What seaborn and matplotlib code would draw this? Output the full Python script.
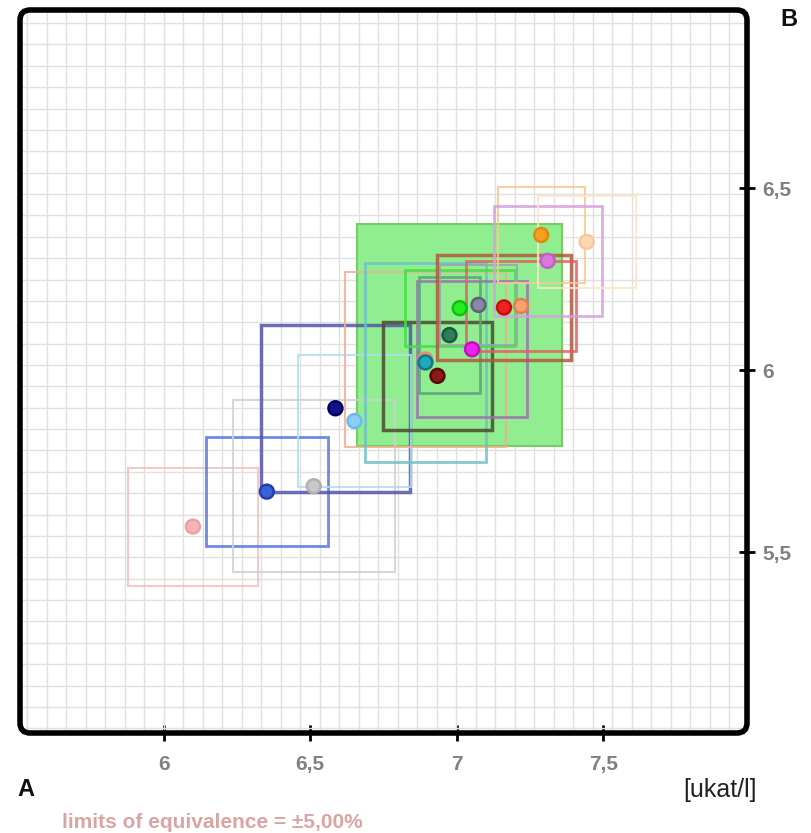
import numpy as np
import pandas as pd
import matplotlib
matplotlib.use("Agg")
import matplotlib.pyplot as plt
from matplotlib.patches import Rectangle, FancyBboxPatch
import seaborn as sns

# ---------------- data ----------------
labs = ["pink", "blue", "lightgray", "navy", "sky", "salmon", "teal", "maroon",
        "magenta", "darkgreen", "green", "slategray", "red", "lightorange",
        "orange", "orchid", "peach"]
val_a = [6.100, 6.352, 6.512, 6.586, 6.651, 6.893, 6.893, 6.934,
         7.052, 6.975, 7.010, 7.074, 7.161, 7.219, 7.288, 7.310, 7.443]
val_b = [5.570, 5.666, 5.681, 5.895, 5.860, 6.029, 6.021, 5.984,
         6.057, 6.096, 6.170, 6.179, 6.172, 6.176, 6.371, 6.300, 6.352]
half_a = [0.222, 0.209, 0.276, 0.254, 0.194, 0.276, 0.205, 0.186,
          0.189, 0.104, 0.188, 0.130, 0.230, 0.189, 0.148, 0.184, 0.167]
half_b = [0.162, 0.149, 0.237, 0.229, 0.181, 0.240, 0.273, 0.149,
          0.187, 0.159, 0.104, 0.110, 0.144, 0.124, 0.133, 0.151, 0.126]
point_colors = ["#f5b5b5", "#3a62d8", "#c8c8c8", "#14148a", "#87cefa", "#f8b090",
                "#22a8b8", "#8b1a1a", "#ee22ee", "#2e7d5b", "#22ee22", "#8888a0",
                "#ee2020", "#f8a070", "#f5a020", "#dd77dd", "#fdd8b0"]
edge_colors = ["#eea0a0", "#2040b0", "#b0b0b0", "#000060", "#70b8e8", "#e09070",
               "#107888", "#5a0a0a", "#c010c0", "#1a5a3a", "#10c010", "#60607a",
               "#c01010", "#e08050", "#e08a10", "#c060c0", "#f5c8a0"]
box_colors = ["#f5c0c0", "#5577dd", "#d0d0d0", "#5555aa", "#b0dcf5", "#f0b090",
              "#70c0c8", "#4a4a30", "#a070b0", "#60a080", "#44dd44", "#a0a0b8",
              "#b05a3a", "#e06060", "#f8c890", "#d8a0e0", "#fde4c8"]
box_widths = [1.5, 2.0, 1.5, 2.5, 1.5, 1.5, 2.0, 2.5,
              2.0, 2.0, 2.0, 1.5, 2.5, 2.0, 1.5, 2.0, 1.5]

consensus_a = 7.010
consensus_b = 6.097
equivalence = 0.05  # limits of equivalence = ±5,00%

x_ticks = [6.0, 6.5, 7.0, 7.5]
x_ticklabels = ["6", "6,5", "7", "7,5"]
y_ticks = [5.5, 6.0, 6.5]
y_ticklabels = ["5,5", "6", "6,5"]

x_lim = (5.51, 7.99)
y_lim = (5.003, 6.989)

df = pd.DataFrame({"lab": labs, "A": val_a, "B": val_b,
                   "ha": half_a, "hb": half_b})

# ---------------- figure ----------------
sns.set_theme(style="white")
plt.rcParams["font.family"] = ["Liberation Sans", "DejaVu Sans"]

fig = plt.figure(figsize=(8.12, 8.33), dpi=100)
ax = fig.add_axes([20 / 812, 100 / 833, 727 / 812, 723 / 833])
ax.set_xlim(*x_lim)
ax.set_ylim(*y_lim)

# grid
gx = np.arange(x_lim[0] + 0.025, x_lim[1], 0.0665)
gy = np.arange(y_lim[1] - 0.036, y_lim[0], -0.0587)
ax.vlines(gx, y_lim[0], y_lim[1], color="#e0e0e0", lw=1.0, zorder=1)
ax.hlines(gy, x_lim[0], x_lim[1], color="#e0e0e0", lw=1.0, zorder=1)

# equivalence area
ea = consensus_a * equivalence
eb = consensus_b * equivalence
ax.add_patch(Rectangle((consensus_a - ea, consensus_b - eb), 2 * ea, 2 * eb,
                       facecolor="#90ee90", edgecolor="#78cc60", lw=1.5, zorder=2))

# boxes
for i, r in df.iterrows():
    ax.add_patch(Rectangle((r.A - r.ha, r.B - r.hb), 2 * r.ha, 2 * r.hb,
                           fill=False, edgecolor=box_colors[i], lw=box_widths[i],
                           alpha=0.85, zorder=3))

# points
pal = dict(zip(labs, point_colors))
sns.scatterplot(data=df, x="A", y="B", hue="lab", palette=pal, legend=False,
                s=100, linewidth=1.8, edgecolor=edge_colors, ax=ax, zorder=4)

# frame
for sp in ax.spines.values():
    sp.set_visible(False)
ax.add_patch(FancyBboxPatch((0, 0), 1, 1, boxstyle="round,pad=0,rounding_size=0.014",
                            transform=ax.transAxes, fill=False, ec="black", lw=4,
                            clip_on=False, zorder=10))

ax.set_xlabel("")
ax.set_ylabel("")
ax.set_xticks(x_ticks)
ax.set_xticklabels(x_ticklabels)
ax.set_yticks(y_ticks)
ax.set_yticklabels(y_ticklabels)
ax.yaxis.tick_right()
ax.tick_params(axis="x", bottom=True, top=False, labelbottom=True)
ax.tick_params(axis="both", direction="inout", length=12, width=2.0, color="black",
               labelcolor="#808080", labelsize=15)
ax.tick_params(axis="x", pad=10)
ax.tick_params(axis="y", pad=5)
for t in ax.xaxis.get_major_ticks() + ax.yaxis.get_major_ticks():
    t.tick1line.set_zorder(11)
    t.tick2line.set_zorder(11)
for lab in ax.get_xticklabels() + ax.get_yticklabels():
    lab.set_fontweight("bold")

fig.text(789 / 812, 1 - 20 / 833, "B", fontsize=17, fontweight="bold",
         ha="center", va="center", color="#111111")
fig.text(26 / 812, 1 - 790 / 833, "A", fontsize=17, fontweight="bold",
         ha="center", va="center", color="#111111")
fig.text(757 / 812, 1 - 790 / 833, "[ukat/l]", fontsize=18,
         ha="right", va="center", color="#222222")
fig.text(62 / 812, 1 - 822 / 833, "limits of equivalence = \u00b15,00%", fontsize=15,
         fontweight="bold", ha="left", va="center", color="#dba4a4")

fig.savefig("out.png", dpi=100)
